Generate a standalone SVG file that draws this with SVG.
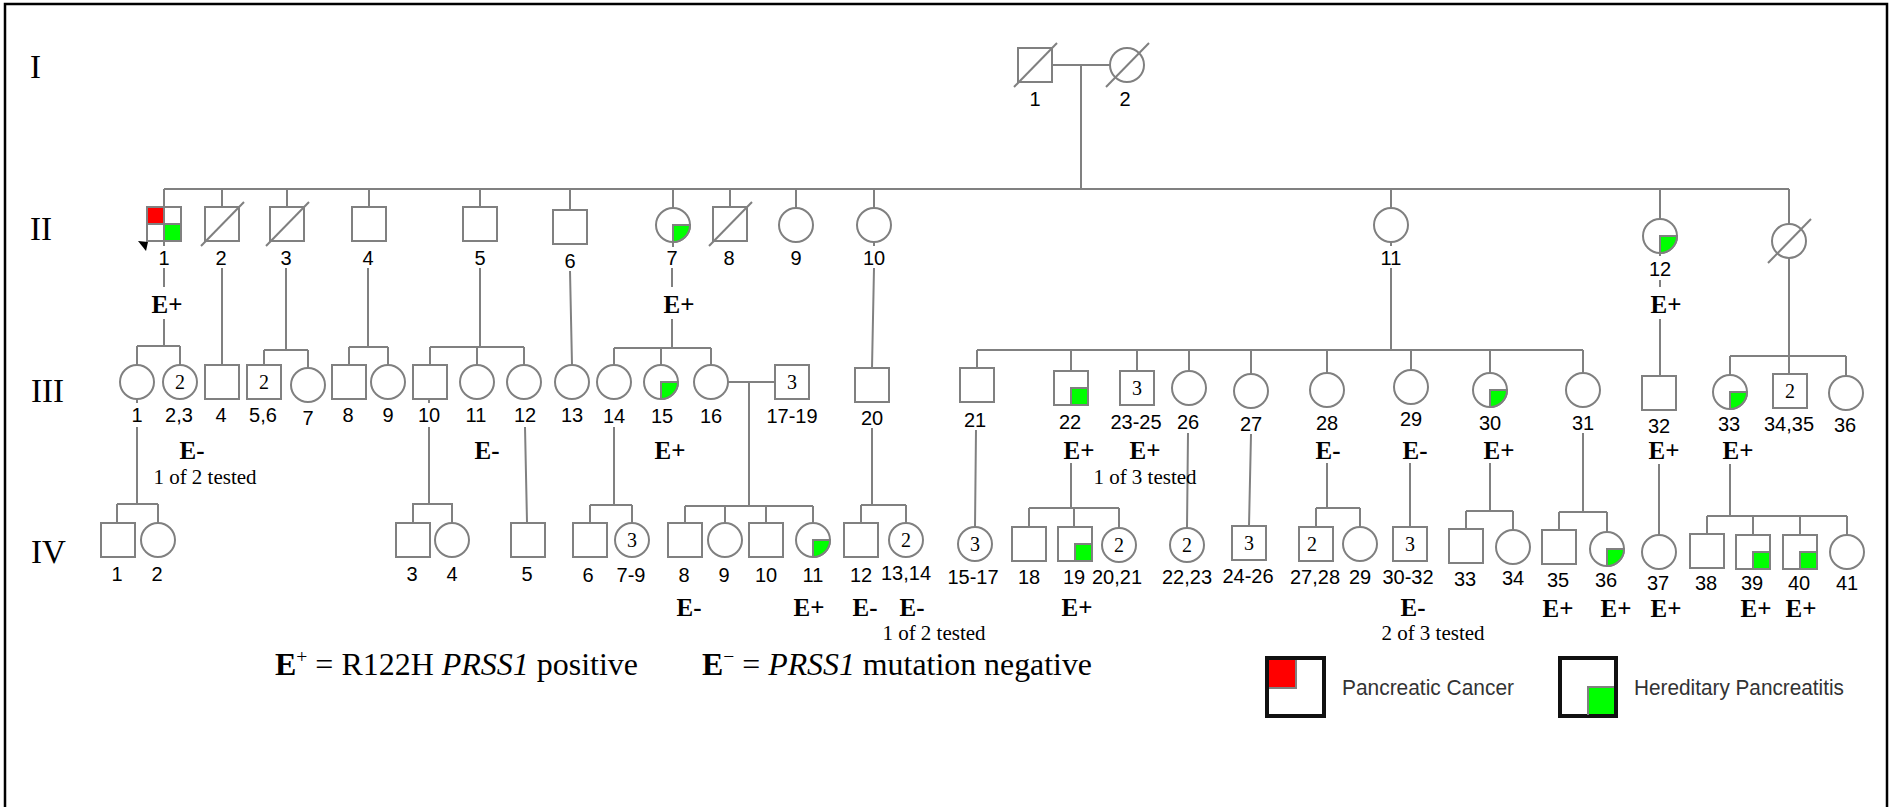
<svg xmlns="http://www.w3.org/2000/svg" xmlns:xlink="http://www.w3.org/1999/xlink" width="1891" height="807" viewBox="0 0 1891 807">
<style>
.s{fill:#fff;stroke:#808080;stroke-width:2}
.ln{fill:none;stroke:#808080;stroke-width:2}
.g{fill:#00ff00;stroke:#808080;stroke-width:2}
.lbl{font-family:"Liberation Sans",Arial,sans-serif;font-size:20px;text-anchor:middle;fill:#000}
.in{font-family:"Liberation Serif","Times New Roman",serif;font-size:20px;text-anchor:middle;fill:#000}
.e{font-family:"Liberation Serif","Times New Roman",serif;font-weight:bold;font-size:25px;text-anchor:middle;fill:#000}
.t{font-family:"Liberation Serif","Times New Roman",serif;font-size:21px;text-anchor:middle;fill:#000}
.gen{font-family:"Liberation Serif","Times New Roman",serif;font-size:33px;fill:#000}
.leg{font-family:"Liberation Serif","Times New Roman",serif;font-size:31px;fill:#000}
.legs{font-family:"Liberation Sans",Arial,sans-serif;font-size:22px;fill:#333}
</style>
<defs>
<rect id="sq" x="-17" y="-17" width="34" height="34" class="s"/>
<circle id="ci" r="17" class="s"/>
<path id="gq" d="M0,0 H17 A17,17 0 0 1 0,17 Z" class="g"/>
<rect id="gs" x="0" y="0" width="17" height="17" class="g"/>
<line id="dx" x1="-21" y1="22" x2="22" y2="-22" class="ln"/>
</defs>
<rect x="0" y="0" width="1891" height="807" fill="#fff"/>
<rect x="5" y="4" width="1882" height="820" fill="none" stroke="#000" stroke-width="2.5"/>

<g id="generations">
<text class="gen" x="30" y="78">I</text>
<text class="gen" x="30" y="240">II</text>
<text class="gen" x="31" y="402">III</text>
<text class="gen" x="31" y="563">IV</text>
</g>

<g id="connectors" class="ln">
<path d="M1053,65 H1110 M1081,65 V189 M164,189 H1789
M164,189 V207 M222,189 V207 M287,189 V207 M369,189 V207 M480,189 V207 M570,189 V210 M673,189 V208 M730,189 V207 M796,189 V208 M874,189 V208 M1391,189 V208 M1660,189 V219 M1789,189 V224
M164,241 V246 M164,268 V287 M164,319 V346 M137,346 H180 M137,346 V366 M180,346 V366
M222,268 V365
M286,268 V350 M264,350 H308 M264,350 V365 M308,350 V368
M368,268 V347 M349,347 H388 M349,347 V365 M388,347 V365
M480,268 V347 M430,347 H524 M430,347 V365 M477,347 V365 M524,347 V365
M570,271 L572,365
M673,242 V247 M672,268 V287 M672,319 V348 M614,348 H711 M614,348 V365 M661,348 V365 M711,348 V365
M874,242 V246 M874,268 L872,368
M1391,242 V246 M1391,268 V350 M977,350 H1583 M977,350 V368 M1071,350 V371 M1137,350 V371 M1189,350 V371 M1251,350 V374 M1327,350 V373 M1411,350 V370 M1490,350 V373 M1583,350 V373
M1660,252 V256 M1660,280 V287 M1660,319 V376
M1789,257 V356 M1730,356 H1846 M1730,356 V375 M1789,356 V374 M1846,356 V376
M728,382 H775 M749,382 V506 M685,506 H813 M685,506 V523 M725,506 V523 M766,506 V523 M813,506 V523
M137,399 V403 M137,427 V504 M117,504 H158 M117,504 V522 M158,504 V523
M429,399 V403 M429,427 V504 M412,504 H453 M413,504 V522 M452,504 V523
M525,427 L527,522
M614,427 V505 M590,505 H632 M590,505 V523 M632,505 V523
M872,428 V505 M861,505 H906 M861,505 V523 M906,505 V523
M976,430 L975,527
M1071,463 V508 M1029,508 H1119 M1029,508 V527 M1074,508 V527 M1119,508 V528
M1188,433 L1187,528
M1251,434 L1249,526
M1327,463 V508 M1316,508 H1360 M1316,508 V527 M1360,508 V527
M1410,463 V527
M1490,463 V511 M1466,511 H1513 M1466,511 V529 M1513,511 V530
M1583,433 V512 M1559,512 H1607 M1559,512 V530 M1607,512 V532
M1659,464 V535
M1730,464 V516 M1707,516 H1847 M1707,516 V534 M1753,516 V535 M1800,516 V535 M1847,516 V535"/>
</g>

<!-- Generation I -->
<g id="I-1"><use href="#sq" x="1035" y="65"/><use href="#dx" x="1035" y="65"/><text class="lbl" x="1035" y="106">1</text></g>
<g id="I-2"><use href="#ci" x="1127" y="65"/><use href="#dx" x="1127" y="65"/><text class="lbl" x="1125" y="106">2</text></g>

<!-- Generation II -->
<g id="II-1">
<use href="#sq" x="164" y="224"/>
<rect x="148" y="208" width="16" height="16" fill="#ff0000"/>
<rect x="164" y="224" width="16" height="16" fill="#00ff00"/>
<path class="ln" d="M164,207 V241 M147,224 H181"/>
<rect x="147" y="207" width="34" height="34" fill="none" stroke="#808080" stroke-width="2"/>
<polygon points="138,241 148,242 146,251" fill="#000"/>
<text class="lbl" x="164" y="265">1</text>
<text class="e" x="167" y="313">E+</text>
</g>
<g id="II-2"><use href="#sq" x="222" y="224"/><use href="#dx" x="222" y="224"/><text class="lbl" x="221" y="265">2</text></g>
<g id="II-3"><use href="#sq" x="287" y="224"/><use href="#dx" x="287" y="224"/><text class="lbl" x="286" y="265">3</text></g>
<g id="II-4"><use href="#sq" x="369" y="224"/><text class="lbl" x="368" y="265">4</text></g>
<g id="II-5"><use href="#sq" x="480" y="224"/><text class="lbl" x="480" y="265">5</text></g>
<g id="II-6"><use href="#sq" x="570" y="227"/><text class="lbl" x="570" y="268">6</text></g>
<g id="II-7"><use href="#ci" x="673" y="225"/><use href="#gq" x="673" y="225"/><text class="lbl" x="672" y="265">7</text><text class="e" x="679" y="313">E+</text></g>
<g id="II-8"><use href="#sq" x="730" y="224"/><use href="#dx" x="730" y="224"/><text class="lbl" x="729" y="265">8</text></g>
<g id="II-9"><use href="#ci" x="796" y="225"/><text class="lbl" x="796" y="265">9</text></g>
<g id="II-10"><use href="#ci" x="874" y="225"/><text class="lbl" x="874" y="265">10</text></g>
<g id="II-11"><use href="#ci" x="1391" y="225"/><text class="lbl" x="1391" y="265">11</text></g>
<g id="II-12"><use href="#ci" x="1660" y="236"/><use href="#gq" x="1660" y="236"/><text class="lbl" x="1660" y="276">12</text><text class="e" x="1666" y="313">E+</text></g>
<g id="II-13"><use href="#ci" x="1789" y="241"/><use href="#dx" x="1789" y="241"/></g>

<!-- Generation III -->
<g id="III-1"><use href="#ci" x="137" y="382"/><text class="lbl" x="137" y="422">1</text></g>
<g id="III-2-3"><use href="#ci" x="180" y="382"/><text class="in" x="180" y="389">2</text><text class="lbl" x="179" y="422">2,3</text><text class="e" x="192" y="459">E-</text><text class="t" x="205" y="484">1 of 2 tested</text></g>
<g id="III-4"><use href="#sq" x="222" y="382"/><text class="lbl" x="221" y="422">4</text></g>
<g id="III-5-6"><use href="#sq" x="264" y="382"/><text class="in" x="264" y="389">2</text><text class="lbl" x="263" y="422">5,6</text></g>
<g id="III-7"><use href="#ci" x="308" y="385"/><text class="lbl" x="308" y="425">7</text></g>
<g id="III-8"><use href="#sq" x="349" y="382"/><text class="lbl" x="348" y="422">8</text></g>
<g id="III-9"><use href="#ci" x="388" y="382"/><text class="lbl" x="388" y="422">9</text></g>
<g id="III-10"><use href="#sq" x="430" y="382"/><text class="lbl" x="429" y="422">10</text></g>
<g id="III-11"><use href="#ci" x="477" y="382"/><text class="lbl" x="476" y="422">11</text><text class="e" x="487" y="459">E-</text></g>
<g id="III-12"><use href="#ci" x="524" y="382"/><text class="lbl" x="525" y="422">12</text></g>
<g id="III-13"><use href="#ci" x="572" y="382"/><text class="lbl" x="572" y="422">13</text></g>
<g id="III-14"><use href="#ci" x="614" y="382"/><text class="lbl" x="614" y="423">14</text></g>
<g id="III-15"><use href="#ci" x="661" y="382"/><use href="#gq" x="661" y="382"/><text class="lbl" x="662" y="423">15</text><text class="e" x="670" y="459">E+</text></g>
<g id="III-16"><use href="#ci" x="711" y="382"/><text class="lbl" x="711" y="423">16</text></g>
<g id="III-17-19"><use href="#sq" x="792" y="382"/><text class="in" x="792" y="389">3</text><text class="lbl" x="792" y="423">17-19</text></g>
<g id="III-20"><use href="#sq" x="872" y="385"/><text class="lbl" x="872" y="425">20</text></g>
<g id="III-21"><use href="#sq" x="977" y="385"/><text class="lbl" x="975" y="427">21</text></g>
<g id="III-22"><use href="#sq" x="1071" y="388"/><use href="#gs" x="1071" y="388"/><text class="lbl" x="1070" y="429">22</text><text class="e" x="1079" y="459">E+</text></g>
<g id="III-23-25"><use href="#sq" x="1137" y="388"/><text class="in" x="1137" y="395">3</text><text class="lbl" x="1136" y="429">23-25</text><text class="e" x="1145" y="459">E+</text><text class="t" x="1145" y="484">1 of 3 tested</text></g>
<g id="III-26"><use href="#ci" x="1189" y="388"/><text class="lbl" x="1188" y="429">26</text></g>
<g id="III-27"><use href="#ci" x="1251" y="391"/><text class="lbl" x="1251" y="431">27</text></g>
<g id="III-28"><use href="#ci" x="1327" y="390"/><text class="lbl" x="1327" y="430">28</text><text class="e" x="1328" y="459">E-</text></g>
<g id="III-29"><use href="#ci" x="1411" y="387"/><text class="lbl" x="1411" y="426">29</text><text class="e" x="1415" y="459">E-</text></g>
<g id="III-30"><use href="#ci" x="1490" y="390"/><use href="#gq" x="1490" y="390"/><text class="lbl" x="1490" y="430">30</text><text class="e" x="1499" y="459">E+</text></g>
<g id="III-31"><use href="#ci" x="1583" y="390"/><text class="lbl" x="1583" y="430">31</text></g>
<g id="III-32"><use href="#sq" x="1659" y="393"/><text class="lbl" x="1659" y="433">32</text><text class="e" x="1664" y="459">E+</text></g>
<g id="III-33"><use href="#ci" x="1730" y="392"/><use href="#gq" x="1730" y="392"/><text class="lbl" x="1729" y="431">33</text><text class="e" x="1738" y="459">E+</text></g>
<g id="III-34-35"><use href="#sq" x="1790" y="391"/><text class="in" x="1790" y="398">2</text><text class="lbl" x="1789" y="431">34,35</text></g>
<g id="III-36"><use href="#ci" x="1846" y="393"/><text class="lbl" x="1845" y="432">36</text></g>

<!-- Generation IV -->
<g id="IV-1"><use href="#sq" x="118" y="540"/><text class="lbl" x="117" y="581">1</text></g>
<g id="IV-2"><use href="#ci" x="158" y="540"/><text class="lbl" x="157" y="581">2</text></g>
<g id="IV-3"><use href="#sq" x="413" y="540"/><text class="lbl" x="412" y="581">3</text></g>
<g id="IV-4"><use href="#ci" x="452" y="540"/><text class="lbl" x="452" y="581">4</text></g>
<g id="IV-5"><use href="#sq" x="528" y="540"/><text class="lbl" x="527" y="581">5</text></g>
<g id="IV-6"><use href="#sq" x="590" y="540"/><text class="lbl" x="588" y="582">6</text></g>
<g id="IV-7-9"><use href="#ci" x="632" y="540"/><text class="in" x="632" y="547">3</text><text class="lbl" x="631" y="582">7-9</text></g>
<g id="IV-8"><use href="#sq" x="685" y="540"/><text class="lbl" x="684" y="582">8</text><text class="e" x="689" y="616">E-</text></g>
<g id="IV-9"><use href="#ci" x="725" y="540"/><text class="lbl" x="724" y="582">9</text></g>
<g id="IV-10"><use href="#sq" x="766" y="540"/><text class="lbl" x="766" y="582">10</text></g>
<g id="IV-11"><use href="#ci" x="813" y="540"/><use href="#gq" x="813" y="540"/><text class="lbl" x="813" y="582">11</text><text class="e" x="809" y="616">E+</text></g>
<g id="IV-12"><use href="#sq" x="861" y="540"/><text class="lbl" x="861" y="582">12</text><text class="e" x="865" y="616">E-</text></g>
<g id="IV-13-14"><use href="#ci" x="906" y="540"/><text class="in" x="906" y="547">2</text><text class="lbl" x="906" y="580">13,14</text><text class="e" x="912" y="616">E-</text><text class="t" x="934" y="640">1 of 2 tested</text></g>
<g id="IV-15-17"><use href="#ci" x="975" y="544"/><text class="in" x="975" y="551">3</text><text class="lbl" x="973" y="584">15-17</text></g>
<g id="IV-18"><use href="#sq" x="1029" y="544"/><text class="lbl" x="1029" y="584">18</text></g>
<g id="IV-19"><use href="#sq" x="1075" y="544"/><use href="#gs" x="1075" y="544"/><text class="lbl" x="1074" y="584">19</text><text class="e" x="1077" y="616">E+</text></g>
<g id="IV-20-21"><use href="#ci" x="1119" y="545"/><text class="in" x="1119" y="552">2</text><text class="lbl" x="1117" y="584">20,21</text></g>
<g id="IV-22-23"><use href="#ci" x="1187" y="545"/><text class="in" x="1187" y="552">2</text><text class="lbl" x="1187" y="584">22,23</text></g>
<g id="IV-24-26"><use href="#sq" x="1249" y="543"/><text class="in" x="1249" y="550">3</text><text class="lbl" x="1248" y="583">24-26</text></g>
<g id="IV-27-28"><use href="#sq" x="1316" y="544"/><text class="in" x="1312" y="551">2</text><text class="lbl" x="1315" y="584">27,28</text></g>
<g id="IV-29"><use href="#ci" x="1360" y="544"/><text class="lbl" x="1360" y="584">29</text></g>
<g id="IV-30-32"><use href="#sq" x="1410" y="544"/><text class="in" x="1410" y="551">3</text><text class="lbl" x="1408" y="584">30-32</text><text class="e" x="1413" y="616">E-</text><text class="t" x="1433" y="640">2 of 3 tested</text></g>
<g id="IV-33"><use href="#sq" x="1466" y="546"/><text class="lbl" x="1465" y="586">33</text></g>
<g id="IV-34"><use href="#ci" x="1513" y="547"/><text class="lbl" x="1513" y="585">34</text></g>
<g id="IV-35"><use href="#sq" x="1559" y="547"/><text class="lbl" x="1558" y="587">35</text><text class="e" x="1558" y="617">E+</text></g>
<g id="IV-36"><use href="#ci" x="1607" y="549"/><use href="#gq" x="1607" y="549"/><text class="lbl" x="1606" y="587">36</text><text class="e" x="1616" y="617">E+</text></g>
<g id="IV-37"><use href="#ci" x="1659" y="552"/><text class="lbl" x="1658" y="590">37</text><text class="e" x="1666" y="617">E+</text></g>
<g id="IV-38"><use href="#sq" x="1707" y="551"/><text class="lbl" x="1706" y="590">38</text></g>
<g id="IV-39"><use href="#sq" x="1753" y="552"/><use href="#gs" x="1753" y="552"/><text class="lbl" x="1752" y="590">39</text><text class="e" x="1756" y="617">E+</text></g>
<g id="IV-40"><use href="#sq" x="1800" y="552"/><use href="#gs" x="1800" y="552"/><text class="lbl" x="1799" y="590">40</text><text class="e" x="1801" y="617">E+</text></g>
<g id="IV-41"><use href="#ci" x="1847" y="552"/><text class="lbl" x="1847" y="590">41</text></g>

<!-- Legend -->
<g id="legend-text">
<text class="leg" x="275" y="675" textLength="363" lengthAdjust="spacingAndGlyphs"><tspan font-weight="bold">E</tspan><tspan font-size="19" dy="-12">+</tspan><tspan dy="12"> = R122H </tspan><tspan font-style="italic">PRSS1</tspan> positive</text>
<text class="leg" x="702" y="675" textLength="390" lengthAdjust="spacingAndGlyphs"><tspan font-weight="bold">E</tspan><tspan font-size="19" dy="-12">−</tspan><tspan dy="12"> = </tspan><tspan font-style="italic">PRSS1</tspan> mutation negative</text>
</g>
<g id="legend-cancer">
<rect x="1267" y="658" width="57" height="58" fill="#fff" stroke="#111" stroke-width="4"/>
<rect x="1269" y="660" width="26" height="27" fill="#ff0000"/>
<path d="M1296,660 V688 H1269" fill="none" stroke="#808080" stroke-width="2"/>
<text class="legs" x="1342" y="695" textLength="172" lengthAdjust="spacingAndGlyphs">Pancreatic Cancer</text>
</g>
<g id="legend-hp">
<rect x="1560" y="658" width="56" height="58" fill="#fff" stroke="#111" stroke-width="4"/>
<rect x="1588" y="688" width="26" height="26" fill="#00ff00"/>
<path d="M1588,715 V687 H1614" fill="none" stroke="#808080" stroke-width="2"/>
<text class="legs" x="1634" y="695" textLength="210" lengthAdjust="spacingAndGlyphs">Hereditary Pancreatitis</text>
</g>
</svg>
